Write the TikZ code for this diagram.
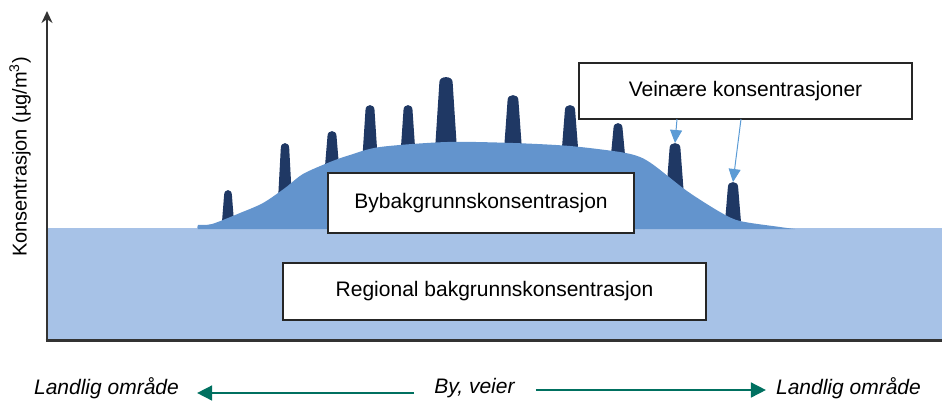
\documentclass[tikz,border=0pt]{standalone}
\usepackage{fontspec}
\setmainfont{Liberation Sans}
\usetikzlibrary{arrows.meta}
\definecolor{regblue}{RGB}{167,194,231}
\definecolor{cityblue}{RGB}{99,148,205}
\definecolor{roadnavy}{RGB}{31,56,100}
\definecolor{pathteal}{RGB}{0,112,96}
\definecolor{callblue}{RGB}{91,155,213}

\begin{document}
\begin{tikzpicture}[x=1pt,y=-1pt,
  box/.style={draw=black!85,line width=1.2pt,fill=white,inner sep=0pt,font=\fontsize{21}{25}\selectfont},
  lbl/.style={inner sep=0pt,font=\fontsize{21}{25}\selectfont\itshape},
  axis/.style={draw=black!80},
  dirarrow/.style={draw=pathteal,line width=1.6pt,-{Triangle[length=15pt,width=15pt]}},
  callout/.style={draw=callblue,line width=1pt,-{Triangle[length=13pt,width=12pt]}}]
 \useasboundingbox (0,0) rectangle (942,400);
 % road spikes: x/top/base/halfwidth
 \foreach \x/\t/\b/\hw [count=\i] in {228/190/228/6.5, 285/143/200/7, 332/131/172/7.5, 370/105/156/7.5,
   408/105/154/7.5, 446/77/150/11, 513/95/150/9, 570/105/154/8.5, 618/123/160/7.5, 675/143/196/9, 733/182/228/8.5}
 {
  \fill[roadnavy] ({\x-\hw},\b) -- ({\x-0.6*\hw},{\t+5})
    .. controls ({\x-0.6*\hw},{\t-1.5}) and ({\x+0.6*\hw},{\t-1.5}) .. ({\x+0.6*\hw},{\t+5})
    -- ({\x+\hw},\b) -- cycle;
  \coordinate (s\i) at (\x,\t);
 }
 \fill[regblue] (46,228) rectangle (942,339);
 \fill[cityblue] plot[smooth,tension=0.5] coordinates {(198,229) (198,225) (212,224) (240,213) (263,203) (285,188)
   (303,174) (330,162) (350,155) (380,147) (447,142) (513,143) (570,146) (620,152) (640,157) (655,166)
   (687,191) (720,212) (740,221) (780,227) (795,229)} -- cycle;

 % axes
 \draw[axis,line width=2pt,-{Stealth[length=12pt,width=11pt]}] (47,340) -- (47,11);
 \draw[axis,line width=3pt] (45.5,340) -- (942,340);
 \node[rotate=90,inner sep=0pt,font=\fontsize{20}{24}\selectfont] (ylab) at (20,157) {Konsentrasjon (µg/m\textsuperscript{3})};

 % boxes
 \node[box,minimum width=333pt,minimum height=56pt] (vei) at (745.5,91) {Veinære konsentrasjoner};
 \node[box,minimum width=306pt,minimum height=60pt] (by) at (481,203) {Bybakgrunnskonsentrasjon};
 \node[box,minimum width=423pt,minimum height=57pt] (reg) at (494.5,291.5) {Regional bakgrunnskonsentrasjon};
 \coordinate (c1) at (677,119);
 \coordinate (c2) at (741,119);
 \draw[callout] (c1) -- (s10);
 \draw[callout] (c2) -- (s11);

 % bottom labels
 \node[lbl] (landV) at (106.5,388) {Landlig område};
 \node[lbl] (byvei) at (474.5,388) {By, veier};
 \node[lbl] (landH) at (848.5,388) {Landlig område};
 \draw[dirarrow] ([xshift=-20pt,yshift=-5pt]byvei.west) -- ([xshift=18pt,yshift=-5pt]landV.east);
 \draw[dirarrow] ([xshift=21pt,yshift=-2pt]byvei.east) -- ([xshift=-10pt,yshift=-2pt]landH.west);
\end{tikzpicture}
\end{document}
